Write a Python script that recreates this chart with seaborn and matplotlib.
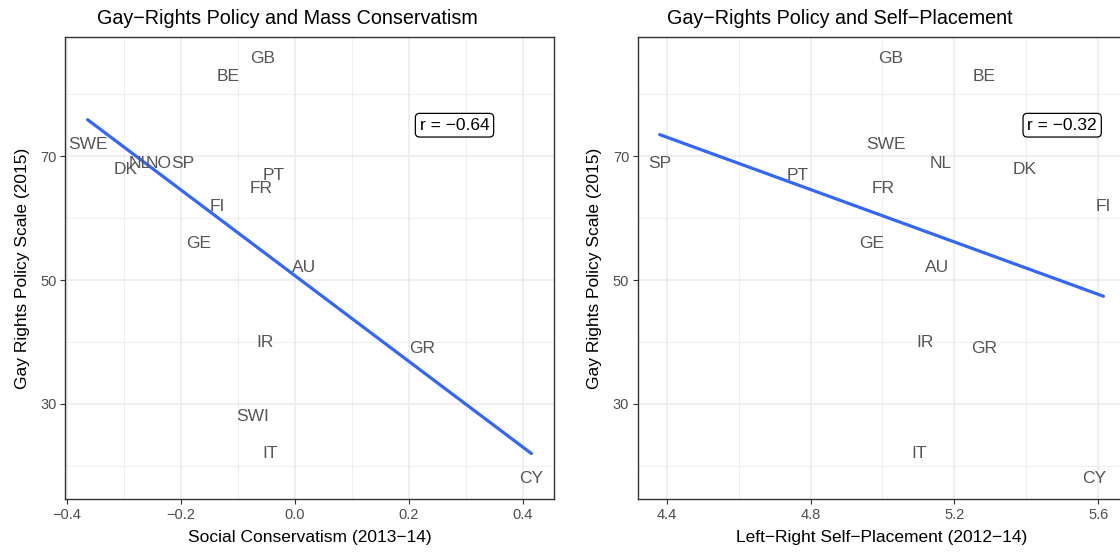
import numpy as np
import pandas as pd
import matplotlib
matplotlib.use("Agg")
import matplotlib.pyplot as plt
from matplotlib.ticker import FixedLocator
import seaborn as sns

# Country-level data
countries_cons = ["GB", "BE", "SWE", "DK", "NL", "NO", "SP", "PT", "FR", "FI",
                  "GE", "AU", "IR", "GR", "SWI", "IT", "CY"]
social_conservatism = [-0.056, -0.118, -0.364, -0.297, -0.272, -0.239, -0.197,
                       -0.038, -0.060, -0.137, -0.169, 0.016, -0.053, 0.223,
                       -0.075, -0.043, 0.415]
policy_cons = [85.8, 82.8, 71.9, 67.9, 68.8, 68.8, 68.8, 66.9, 64.8, 61.9,
               55.9, 52.0, 40.0, 39.0, 28.0, 22.0, 18.0]

countries_lr = ["GB", "BE", "SWE", "SP", "NL", "DK", "PT", "FR", "FI", "GE",
                "AU", "IR", "GR", "IT", "CY"]
self_placement = [5.023, 5.284, 5.010, 4.380, 5.163, 5.396, 4.765, 5.003,
                  5.615, 4.969, 5.153, 5.118, 5.284, 5.103, 5.590]
policy_lr = [85.8, 82.8, 71.9, 68.8, 68.8, 67.9, 66.9, 64.8, 61.9, 55.9,
             52.0, 40.0, 39.0, 22.0, 18.0]

correlations = ["r = \u22120.64", "r = \u22120.32"]
titles = ["Gay\u2212Rights Policy and Mass Conservatism",
          "Gay\u2212Rights Policy and Self\u2212Placement"]
xlabels = ["Social Conservatism (2013\u221214)",
           "Left\u2212Right Self\u2212Placement (2012\u221214)"]
ylabel = "Gay Rights Policy Scale (2015)"
xticks = [[-0.4, -0.2, 0.0, 0.2, 0.4], [4.4, 4.8, 5.2, 5.6]]
xtick_labels = [["\u22120.4", "\u22120.2", "0.0", "0.2", "0.4"],
                ["4.4", "4.8", "5.2", "5.6"]]
xminor = [[-0.3, -0.1, 0.1, 0.3], [4.6, 5.0, 5.4]]
yticks = [30, 50, 70]
yminor = [20, 40, 60, 80]

df_cons = pd.DataFrame({"country": countries_cons, "x": social_conservatism,
                        "y": policy_cons})
df_lr = pd.DataFrame({"country": countries_lr, "x": self_placement,
                      "y": policy_lr})

sns.set_theme(style="white")
plt.rcParams["font.family"] = ["Liberation Sans", "DejaVu Sans"]

W, H = 1120, 552
fig = plt.figure(figsize=(W / 100, H / 100), dpi=100)

panel_left = [65.4, 637.5]
panel_w = 488.2
panel_top, panel_bot = 37.3, 499.3
title_x = [287, 840]
r_pos = [(0.28, 75.0), (5.50, 75.0)]
datasets = [df_cons, df_lr]

for i, df in enumerate(datasets):
    ax = fig.add_axes([panel_left[i] / W, 1 - panel_bot / H,
                       panel_w / W, (panel_bot - panel_top) / H])
    ax.set_facecolor("white")

    sns.regplot(data=df, x="x", y="y", ax=ax, scatter=False, ci=None,
                color="#3366FF", line_kws={"linewidth": 2.3, "zorder": 3})

    # expanded ranges (5% each side)
    xr = df["x"].max() - df["x"].min()
    yr = df["y"].max() - df["y"].min()
    ax.set_xlim(df["x"].min() - 0.05 * xr, df["x"].max() + 0.05 * xr)
    ax.set_ylim(df["y"].min() - 0.05 * yr, df["y"].max() + 0.05 * yr)

    ax.xaxis.set_major_locator(FixedLocator(xticks[i]))
    ax.set_xticklabels(xtick_labels[i])
    ax.xaxis.set_minor_locator(FixedLocator(xminor[i]))
    ax.yaxis.set_major_locator(FixedLocator(yticks))
    ax.yaxis.set_minor_locator(FixedLocator(yminor))

    ax.grid(True, which="major", color="#EBEBEB", linewidth=1.1, zorder=0)
    ax.grid(True, which="minor", color="#EBEBEB", linewidth=0.55, zorder=0)
    ax.set_axisbelow(True)

    for sp in ax.spines.values():
        sp.set_color("#333333")
        sp.set_linewidth(1.0)
        sp.set_visible(True)
    if i == 1:
        # the right border of this panel falls past the canvas edge
        ax.spines["right"].set_visible(False)

    ax.tick_params(axis="both", which="major", length=3.5, width=0.8,
                   color="#333333", labelcolor="#4D4D4D", labelsize=10.5,
                   pad=2.5, bottom=True, left=True)
    ax.tick_params(axis="both", which="minor", length=0)

    for _, row in df.iterrows():
        ax.text(row["x"], row["y"], row["country"], ha="center", va="center",
                fontsize=12.5, color="#555555", zorder=4)

    ax.text(r_pos[i][0], r_pos[i][1], correlations[i], ha="center",
            va="center", fontsize=12.5, color="black", zorder=5,
            bbox=dict(boxstyle="round,pad=0.25,rounding_size=0.25",
                      facecolor="white", edgecolor="black", linewidth=0.9))

    ax.set_xlabel(xlabels[i], fontsize=12.5, color="black", labelpad=6)
    ax.set_ylabel(ylabel, fontsize=12.5, color="black", labelpad=8)

    fig.text(title_x[i] / W, 1 - 19 / H, titles[i], ha="center", va="center",
             fontsize=14.2, color="black")

fig.savefig("out.png", dpi=100)
